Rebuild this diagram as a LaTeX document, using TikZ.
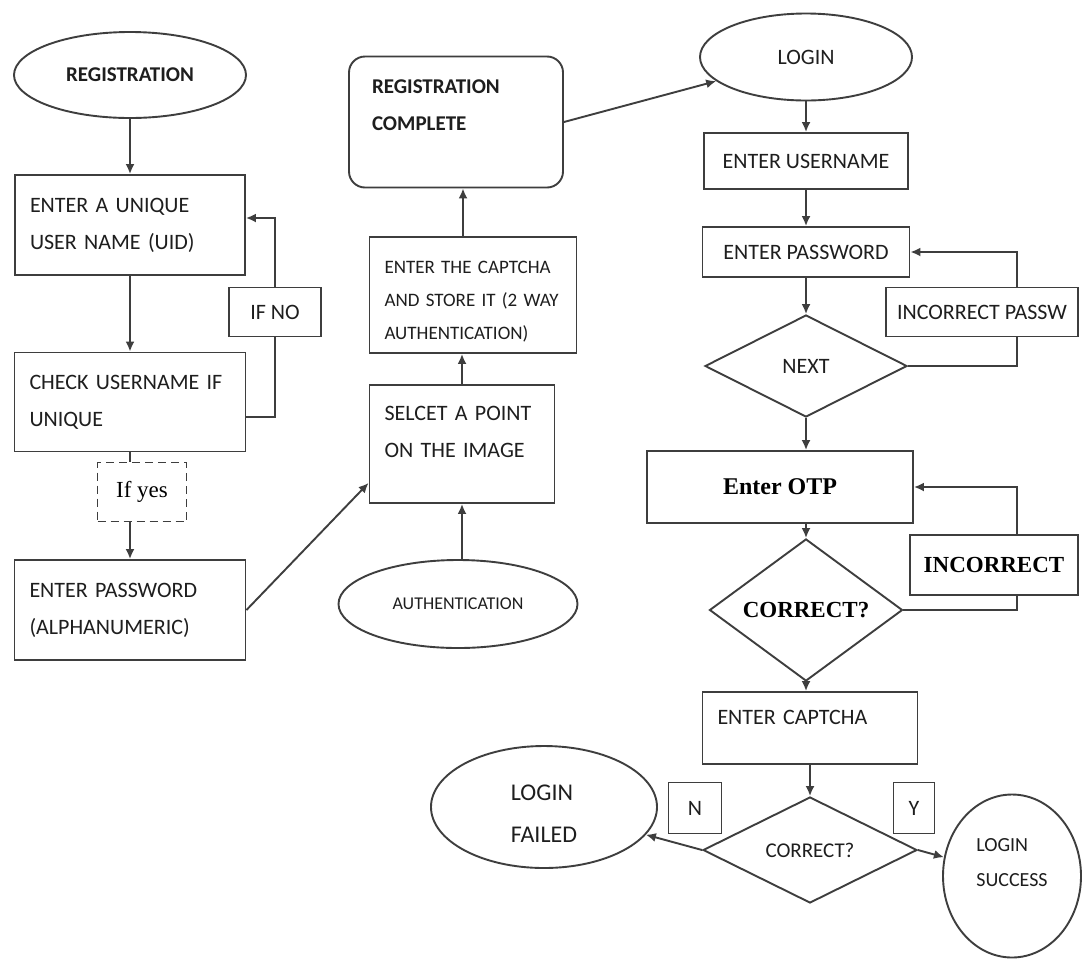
\documentclass[tikz,border=0pt]{standalone}
\usepackage{fontspec}
\setmainfont{Carlito}
\newfontfamily\otpfont{Liberation Serif}
\usetikzlibrary{shapes.geometric,arrows.meta}
\definecolor{lncol}{RGB}{62,62,62}
\definecolor{txtcol}{RGB}{30,30,30}
\tikzset{
	shp/.style={draw=lncol, line width=1.9pt, fill=white, text=txtcol, inner sep=0pt, font=\fontsize{22}{37}\selectfont},
	procbox/.style={shp, rectangle, align=left, inner xsep=15pt},
	flag/.style={shp, rectangle},
	oval/.style={shp, ellipse, align=left},
	decide/.style={shp, diamond},
	serifbold/.style={text=black, font=\otpfont\bfseries\fontsize{23}{28}\selectfont},
	link/.style={draw=lncol, line width=1.9pt},
	arr/.style={link, -{Latex[length=10pt,width=9pt]}},
}
\begin{document}
\begin{tikzpicture}[x=1pt,y=-1pt]
	\fill[white] (0,0) rectangle (1083,959);
	\useasboundingbox (0,0) rectangle (1083,959);

	% registration column
	\node[oval, minimum width=232pt, minimum height=86pt, font=\bfseries\fontsize{21}{37}\selectfont] (reg) at (130,75) {REGISTRATION};
	\node[procbox, text width=200pt, minimum height=100pt] (uid) at (130,225) {ENTER A UNIQUE\\USER NAME (UID)};
	\node[procbox, text width=201pt, minimum height=99pt] (check) at (130,402) {CHECK USERNAME IF\\UNIQUE};
	\node[flag, dash pattern=on 8pt off 5pt, minimum width=89pt, minimum height=59pt, text=black, font=\otpfont\fontsize{23}{28}\selectfont] (ifyes) at (142,492) {If yes};
	\node[procbox, text width=201pt, minimum height=100pt] (pwd) at (130,610) {ENTER PASSWORD\\(ALPHANUMERIC)};
	\node[flag, minimum width=92pt, minimum height=49pt] (ifno) at (275,312) {IF NO};

	% captcha column
	\node[procbox, rounded corners=16pt, inner xsep=23pt, text width=168pt, minimum height=131pt, text depth=70pt, font=\bfseries\fontsize{21}{37}\selectfont] (regdone) at (456,122) {REGISTRATION\\COMPLETE};
	\node[procbox, text width=177pt, minimum height=116pt, text depth=56pt, font=\fontsize{19}{33}\selectfont] (captcha) at (473,295) {ENTER THE CAPTCHA\\AND STORE IT (2 WAY\\AUTHENTICATION)};
	\node[procbox, text width=155pt, minimum height=118pt, text depth=62pt] (selpt) at (462,444) {SELCET A POINT\\ON THE IMAGE};
	\node[oval, minimum width=239pt, minimum height=88pt, font=\fontsize{18}{22}\selectfont] (auth) at (458,604) {AUTHENTICATION};

	% login column
	\node[oval, minimum width=212pt, minimum height=87pt] (login) at (806,57) {LOGIN};
	\node[flag, minimum width=204pt, minimum height=56pt] (user) at (806,161) {ENTER USERNAME};
	\node[flag, minimum width=207pt, minimum height=50pt] (pass) at (806,252) {ENTER PASSWORD};
	\node[decide, minimum width=202pt, minimum height=102pt] (next) at (806,366) {NEXT};
	\node[flag, minimum width=192pt, minimum height=49pt] (incpw) at (982,312) {INCORRECT PASSW};
	\node[flag, serifbold, minimum width=266pt, minimum height=72pt, font=\otpfont\bfseries\fontsize{24}{28}\selectfont] (otp) at (780,487) {Enter OTP};
	\node[decide, serifbold, minimum width=193pt, minimum height=96pt] (chkotp) at (806,610) {CORRECT?};
	\node[flag, serifbold, minimum width=168pt, minimum height=60pt] (incor) at (994,565) {INCORRECT};
	\node[procbox, text width=185pt, minimum height=72pt, text depth=22pt] (capin) at (810,728) {ENTER CAPTCHA};
	\node[decide, minimum width=214pt, minimum height=106pt, font=\fontsize{21}{25}\selectfont] (chkcap) at (810,850) {CORRECT?};
	\node[flag, minimum width=53pt, minimum height=51pt] (nflag) at (695,808) {N};
	\node[flag, minimum width=41pt, minimum height=51pt] (yflag) at (914,808) {Y};
	\node[oval, minimum width=226pt, minimum height=122pt, text height=71pt, text depth=0pt, font=\fontsize{24}{42}\selectfont] (failed) at (544,807) {LOGIN\\FAILED};
	\node[oval, minimum width=138pt, minimum height=163pt, text depth=28pt, font=\fontsize{20}{35}\selectfont] (success) at (1012,876) {LOGIN\\SUCCESS};

	% connectors
	\draw[arr] (reg) -- (uid);
	\draw[arr] (uid) -- (check);
	\draw[link] (check.south) -- (check.south |- ifyes.north);
	\draw[arr] (ifyes.south -| pwd.north) -- (pwd.north);
	\draw[link] ([yshift=-15pt]check.east) -| (ifno.south);
	\draw[arr] (ifno.north) |- ([yshift=7pt]uid.east);
	\draw[arr] (pwd.east) -- ([yshift=21pt]selpt.south west);
	\draw[arr] (auth.north -| selpt.south) -- (selpt.south);
	\draw[arr] (selpt.north) -- (selpt.north |- captcha.south);
	\draw[arr] ([xshift=-10pt]captcha.north) -- ([xshift=-10pt]captcha.north |- regdone.south);
	\draw[arr] (regdone.east) -- (login);
	\foreach \a/\b in {login/user, user/pass, pass/next}
		\draw[arr] (\a) -- (\b);
	\draw[arr] (next.south) -- (next.south |- otp.north);
	\draw[arr] (otp.south -| chkotp.north) -- (chkotp.north);
	\draw[arr] (chkotp.south) -- (chkotp.south |- capin.north);
	\draw[arr] (capin) -- (chkcap);
	\draw[link] (next.east) -| ([xshift=35pt]incpw.south);
	\draw[arr] ([xshift=35pt]incpw.north) |- (pass.east);
	\draw[link] (chkotp.east) -| ([xshift=23pt]incor.south);
	\draw[arr] ([xshift=23pt]incor.north) |- (otp.east);
	\draw[arr] (chkcap.west) -- (failed);
	\draw[arr] (chkcap.east) -- (success);
\end{tikzpicture}
\end{document}
